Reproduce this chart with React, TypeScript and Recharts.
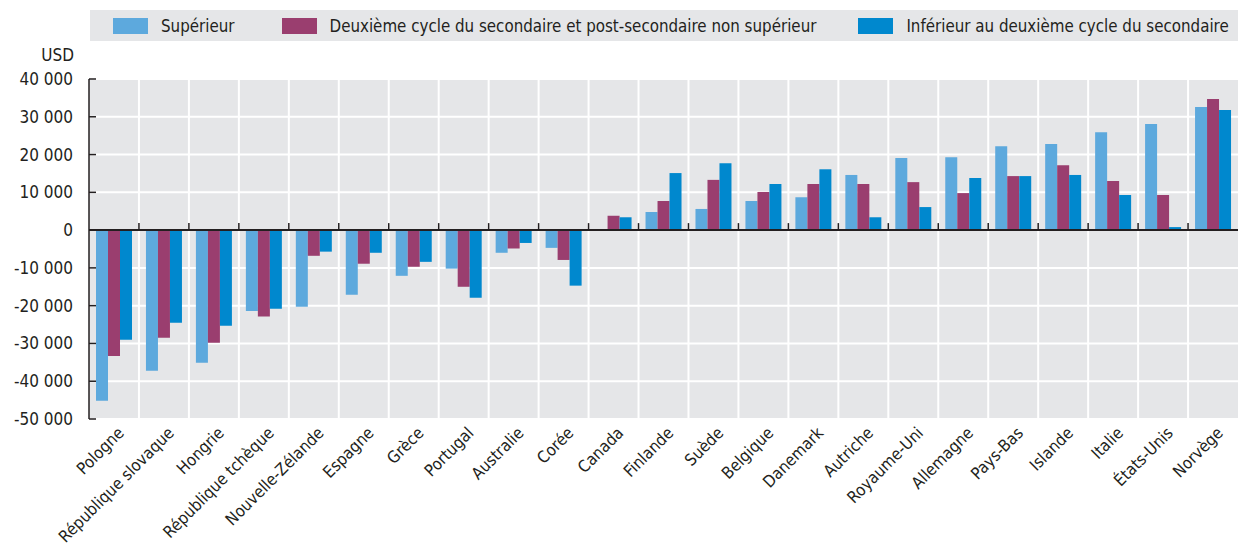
import React from 'react';
import { BarChart, Bar, XAxis, YAxis, CartesianGrid, ReferenceLine } from 'recharts';

const categories = [
  'Pologne', 'République slovaque', 'Hongrie', 'République tchèque', 'Nouvelle-Zélande',
  'Espagne', 'Grèce', 'Portugal', 'Australie', 'Corée', 'Canada', 'Finlande', 'Suède',
  'Belgique', 'Danemark', 'Autriche', 'Royaume-Uni', 'Allemagne', 'Pays-Bas', 'Islande',
  'Italie', 'États-Unis', 'Norvège',
];
const superieur = [
  -45200, -37200, -35100, -21400, -20300, -17100, -12100, -10200, -6000, -4700, 0, 4800, 5600,
  7700, 8700, 14600, 19100, 19300, 22200, 22800, 25900, 28100, 32600,
];
const secondaire = [
  -33300, -28500, -29800, -22900, -6800, -8900, -9700, -15000, -4900, -7900, 3800, 7700, 13300,
  10100, 12200, 12200, 12700, 9800, 14300, 17200, 13000, 9300, 34700,
];
const inferieur = [
  -29000, -24500, -25300, -20800, -5700, -6000, -8400, -17900, -3400, -14700, 3400, 15100, 17700,
  12200, 16100, 3400, 6100, 13800, 14300, 14600, 9300, 800, 31800,
];
const yTicks = [-50000, -40000, -30000, -20000, -10000, 0, 10000, 20000, 30000, 40000];

const seriesNames = [
  'Supérieur',
  'Deuxième cycle du secondaire et post-secondaire non supérieur',
  'Inférieur au deuxième cycle du secondaire',
];
const seriesColors = ['#5DA9DD', '#9A3E6F', '#0088CE'];
const seriesKeys = ['sup', 'sec', 'inf'];
const legendGaps = [23, 47, 42];

const data = categories.map((c, i) => ({
  name: c,
  sup: superieur[i],
  sec: secondaire[i],
  inf: inferieur[i],
}));

const FONT = "'Liberation Sans Narrow', 'Arial Narrow', 'DejaVu Sans Condensed', sans-serif";
const TEXT = '#231F20';
const BG = '#E5E6E8';

const fmt = (v: number) => {
  const s = Math.abs(v).toString().replace(/\B(?=(\d{3})+(?!\d))/g, ' ');
  return (v < 0 ? '-' : '') + s;
};

const XTick = (props: any) => {
  const { x, y, payload } = props;
  return (
    <g transform={`translate(${x + 11},${y + 15})`}>
      <text x={0} y={0} textAnchor="end" transform="rotate(-45)" fill={TEXT}
        style={{ fontFamily: FONT, fontSize: 16.5 }}>
        {payload.value}
      </text>
    </g>
  );
};

const ZeroLine = (props: any) => {
  const { x1, y1, x2 } = props;
  const n = categories.length;
  const step = (x2 - x1) / n;
  const ticks = [];
  for (let i = 1; i < n; i++) {
    const xx = x1 + i * step;
    ticks.push(<line key={i} x1={xx} x2={xx} y1={y1} y2={y1 - 7} stroke={TEXT} strokeWidth={1.5} />);
  }
  return (
    <g>
      <line x1={x1} x2={x2} y1={y1} y2={y1} stroke={TEXT} strokeWidth={2} />
      {ticks}
    </g>
  );
};

export default function App() {
  return (
    <div style={{ position: 'absolute', left: 0, top: 0, width: 1238, height: 548, background: '#fff', fontFamily: FONT }}>
      <div style={{
        position: 'absolute', left: 90, top: 10, width: 1148, height: 31, background: BG,
        display: 'flex', alignItems: 'center', fontSize: 16.8, color: TEXT, overflow: 'hidden',
      }}>
        {seriesNames.map((n, i) => (
          <div key={n} style={{ display: 'flex', alignItems: 'center', marginLeft: legendGaps[i], flexShrink: 0 }}>
            <div style={{ width: 35, height: 16, background: seriesColors[i], marginRight: 13 }} />
            <span style={{ whiteSpace: 'nowrap' }}>{n}</span>
          </div>
        ))}
      </div>
      <div style={{ position: 'absolute', right: 1238 - 74, top: 45, fontSize: 17, color: TEXT }}>USD</div>
      <BarChart width={1238} height={548} data={data}
        margin={{ top: 79, right: 0, bottom: 0, left: 0 }}
        barCategoryGap={7} barGap={0}>
        <CartesianGrid fill={BG} stroke="#FFFFFF" strokeWidth={2}
          verticalCoordinatesGenerator={({ offset }: any) => {
            const n = categories.length;
            const arr: number[] = [];
            for (let i = 1; i < n; i++) arr.push(offset.left + (i * offset.width) / n);
            return arr;
          }} />
        <XAxis dataKey="name" interval={0} height={129} axisLine={false} tickLine={false}
          tickSize={0} tickMargin={0} tick={<XTick />} />
        <YAxis width={89} domain={[-50000, 40000]} ticks={yTicks} interval={0}
          tickFormatter={fmt} axisLine={{ stroke: TEXT, strokeWidth: 1.5 }}
          tickLine={{ stroke: TEXT, strokeWidth: 1.5 }} tickSize={-7} tickMargin={23}
          tick={{ fill: TEXT, fontSize: 17, fontFamily: FONT }} />
        {seriesKeys.map((k, i) => (
          <Bar key={k} dataKey={k} name={seriesNames[i]} fill={seriesColors[i]} isAnimationActive={false} />
        ))}
        <ReferenceLine y={0} shape={<ZeroLine />} />
      </BarChart>
    </div>
  );
}
